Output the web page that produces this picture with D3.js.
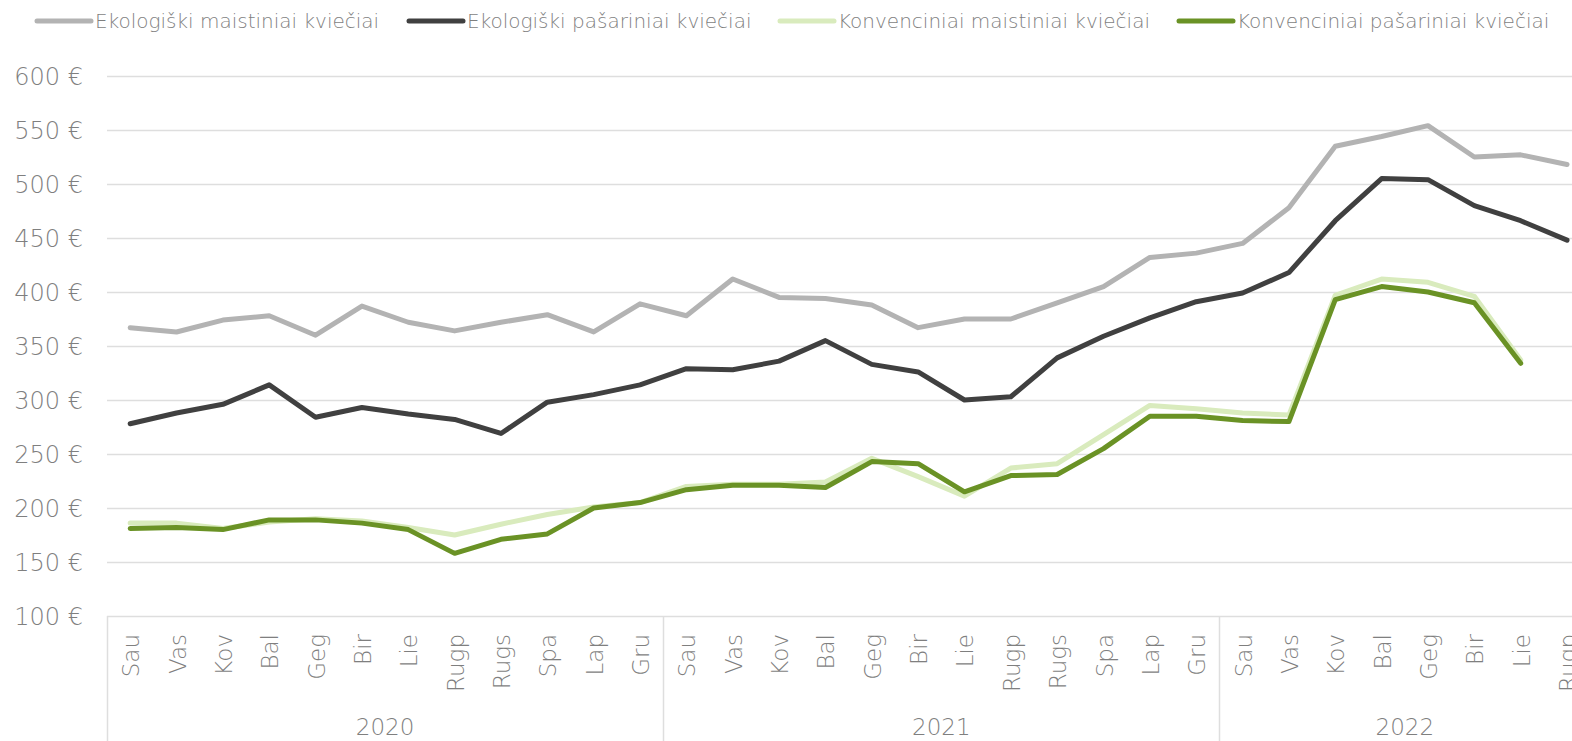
<!DOCTYPE html>
<html>
<head>
<meta charset="utf-8">
<script src="https://cdn.jsdelivr.net/npm/d3@7"></script>
<style>
  body { margin: 0; background: #fff; }
  svg { display: block; font-family: 'DejaVu Sans', sans-serif; font-weight: 200; }
</style>
</head>
<body>
<div id="chart"></div>
<script>
const years = ['2020', '2021', '2022']
const months = ['Sau', 'Vas', 'Kov', 'Bal', 'Geg', 'Bir', 'Lie', 'Rugp', 'Rugs', 'Spa', 'Lap', 'Gru']
const monthsPerYear = [12, 12, 8]
const yTicks = [100, 150, 200, 250, 300, 350, 400, 450, 500, 550, 600]

const seriesNames = [
  'Ekologiški maistiniai kviečiai',
  'Ekologiški pašariniai kviečiai',
  'Konvenciniai maistiniai kviečiai',
  'Konvenciniai pašariniai kviečiai'
]
const seriesColors = ['#b3b3b3', '#404040', '#d9ebbd', '#6a9225']

const ekoMaistiniai = [367, 363, 374, 378, 360, 387, 372, 364, 372, 379, 363, 389,
  378, 412, 395, 394, 388, 367, 375, 375, 390, 405, 432, 436,
  445, 478, 535, 544, 554, 525, 527, 518]
const ekoPasariniai = [278, 288, 296, 314, 284, 293, 287, 282, 269, 298, 305, 314,
  329, 328, 336, 355, 333, 326, 300, 303, 339, 359, 376, 391,
  399, 418, 466, 505, 504, 480, 466, 448]
const konvMaistiniai = [186, 186, 181, 187, 190, 188, 182, 175, 185, 194, 201, 205,
  220, 222, 222, 224, 246, 229, 211, 237, 241, 268, 295, 292,
  288, 286, 397, 412, 409, 396, 337, null]
const konvPasariniai = [181, 182, 180, 189, 189, 186, 180, 158, 171, 176, 200, 205,
  217, 221, 221, 219, 243, 241, 215, 230, 231, 255, 285, 285,
  281, 280, 393, 405, 400, 390, 334, null]

const allSeries = [ekoMaistiniai, ekoPasariniai, konvMaistiniai, konvPasariniai]

const width = 1572
const height = 741

// category keys: year-month
const cats = []
years.forEach((yr, yi) => {
  for (let m = 0; m < monthsPerYear[yi]; m++) cats.push({ key: yr + '-' + m, year: yr, month: months[m] })
})

const svg = d3.select('#chart').append('svg')
  .attr('width', width)
  .attr('height', height)

const x = d3.scaleBand()
  .domain(cats.map(c => c.key))
  .range([107, 107 + 32 * 46.35])
  .padding(0)

const y = d3.scaleLinear()
  .domain([100, 600])
  .range([616, 76])

const cx = k => x(k) + x.bandwidth() / 2

// gridlines
svg.append('g').selectAll('line')
  .data(yTicks)
  .enter().append('line')
  .attr('x1', 107)
  .attr('x2', width)
  .attr('y1', d => Math.round(y(d)) + 0.5)
  .attr('y2', d => Math.round(y(d)) + 0.5)
  .attr('stroke', '#dedede')
  .attr('stroke-width', 1.5)

// y labels
svg.append('g').selectAll('text')
  .data(yTicks)
  .enter().append('text')
  .attr('x', 83)
  .attr('y', d => y(d))
  .attr('dy', '0.36em')
  .attr('text-anchor', 'end')
  .attr('fill', '#7f7f7f')
  .style('font-size', '24px')
  .text(d => d + ' €')

// x axis: month labels
svg.append('g').selectAll('text')
  .data(cats)
  .enter().append('text')
  .attr('transform', d => `translate(${cx(d.key) + 9},634) rotate(-90)`)
  .attr('text-anchor', 'end')
  .attr('fill', '#7f7f7f')
  .style('font-size', '23px')
  .text(d => d.month)

// year group dividers and labels
let start = 0
const groups = years.map((yr, yi) => {
  const g = { year: yr, first: cats[start].key, last: cats[start + monthsPerYear[yi] - 1].key }
  start += monthsPerYear[yi]
  return g
})

svg.append('g').selectAll('line')
  .data(groups)
  .enter().append('line')
  .attr('x1', d => Math.round(x(d.first)) + 0.5)
  .attr('x2', d => Math.round(x(d.first)) + 0.5)
  .attr('y1', y(100))
  .attr('y2', height)
  .attr('stroke', '#dedede')
  .attr('stroke-width', 1.5)

svg.append('g').selectAll('text')
  .data(groups)
  .enter().append('text')
  .attr('x', d => (x(d.first) + x(d.last) + x.bandwidth()) / 2)
  .attr('y', 735)
  .attr('text-anchor', 'middle')
  .attr('fill', '#7f7f7f')
  .style('font-size', '23px')
  .text(d => d.year)

// lines
const line = d3.line()
  .defined(d => d.v != null)
  .x(d => cx(d.key))
  .y(d => y(d.v))

allSeries.forEach((vals, si) => {
  svg.append('path')
    .datum(cats.map((c, i) => ({ key: c.key, v: vals[i] })))
    .attr('fill', 'none')
    .attr('stroke', seriesColors[si])
    .attr('stroke-width', 5)
    .attr('stroke-linejoin', 'round')
    .attr('stroke-linecap', 'round')
    .attr('d', line)
})

// legend
const legendItems = [
  { x0: 37, tx: 95 },
  { x0: 409, tx: 467 },
  { x0: 780, tx: 838 },
  { x0: 1179, tx: 1237 }
]
const legend = svg.append('g')
legendItems.forEach((it, i) => {
  legend.append('line')
    .attr('x1', it.x0)
    .attr('x2', it.x0 + 54)
    .attr('y1', 21)
    .attr('y2', 21)
    .attr('stroke', seriesColors[i])
    .attr('stroke-width', 5)
    .attr('stroke-linecap', 'round')
  legend.append('text')
    .attr('x', it.tx)
    .attr('y', 21)
    .attr('dy', '0.36em')
    .attr('fill', '#7f7f7f')
    .style('font-size', '20px')
    .text(seriesNames[i])
})
</script>
</body>
</html>
